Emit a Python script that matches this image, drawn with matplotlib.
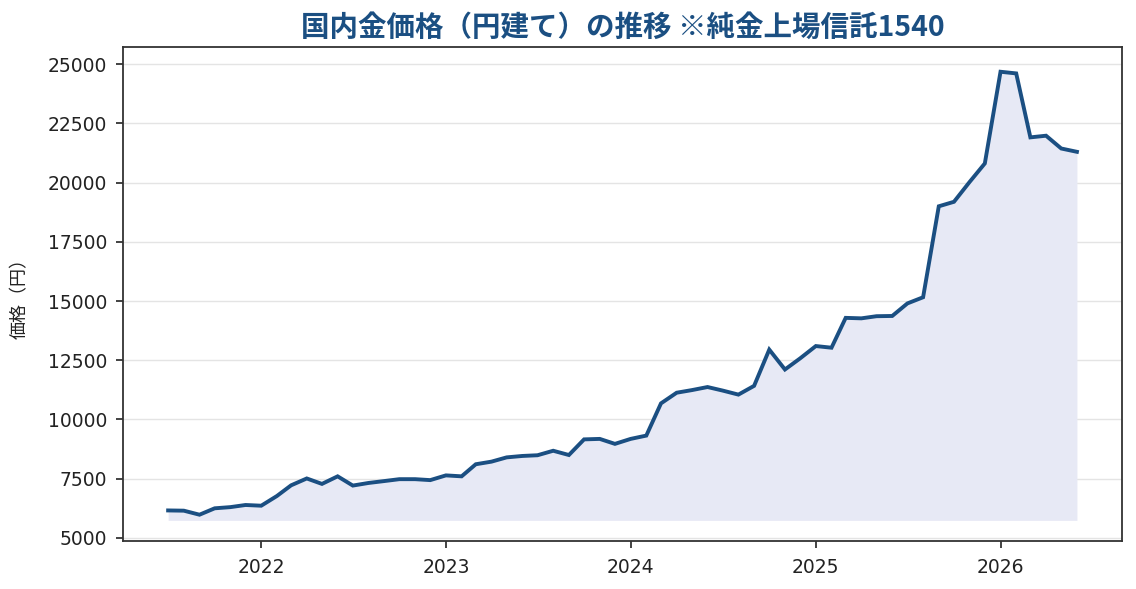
import numpy as np
import pandas as pd
import matplotlib
matplotlib.use("Agg")
import matplotlib.pyplot as plt
import matplotlib.dates as mdates

plt.rcParams['font.family'] = ['Noto Sans CJK JP', 'DejaVu Sans']

# ── Data: monthly price of 純金上場信託 1540 (yen) ─────────────────────────────
months = pd.date_range("2021-07-01", periods=60, freq="MS")
prices = [
    6160, 6150, 5980, 6250, 6300, 6390, 6360, 6770, 7220, 7510,
    7280, 7600, 7210, 7320, 7400, 7480, 7480, 7440, 7640, 7600,
    8110, 8220, 8400, 8460, 8490, 8680, 8500, 9160, 9180, 8970,
    9180, 9320, 10680, 11130, 11240, 11370, 11220, 11050, 11420, 12950,
    12110, 12580, 13100, 13030, 14290, 14270, 14360, 14370, 14900, 15160,
    19000, 19190, 20030, 20810, 24680, 24610, 21910, 21980, 21440, 21300,
]

title = "国内金価格（円建て）の推移 ※純金上場信託1540"
ylabel = "価格（円）"

line_col = '#1b4f82'
fill_col = '#e7e9f5'

# ── Figure ────────────────────────────────────────────────────────────────────
fig = plt.figure(figsize=(11.36, 5.89), dpi=100, facecolor='white')
ax = fig.add_axes([0.108, 0.0815, 0.88, 0.8385])

base = min(prices) * 0.96
ax.fill_between(months, prices, base, color=fill_col, lw=0, zorder=1)
ax.plot(months, prices, color=line_col, lw=2.8, zorder=3, solid_joinstyle='miter')

ax.set_ylim(4870, 25720)
ax.set_yticks(np.arange(5000, 25001, 2500))
ax.xaxis.set_major_locator(mdates.YearLocator())
ax.xaxis.set_major_formatter(mdates.DateFormatter('%Y'))

ax.grid(True, axis='y', color='#e4e4e4', lw=1.0, zorder=0)
ax.set_axisbelow(True)
for sp in ax.spines.values():
    sp.set_color('#333333')
    sp.set_linewidth(1.3)
ax.tick_params(labelsize=13.5, colors='#222222', length=5, width=1.2)
ax.tick_params(axis='y', pad=6)
ax.tick_params(axis='x', pad=7)
for lab in ax.get_xticklabels() + ax.get_yticklabels():
    lab.set_family(['DejaVu Sans'])

ax.set_title(title, fontsize=20.5, fontweight='bold', color=line_col, pad=8)
ax.set_ylabel(ylabel, fontsize=13, color='#222222', labelpad=14)

fig.savefig('out.png', dpi=100, facecolor='white')
